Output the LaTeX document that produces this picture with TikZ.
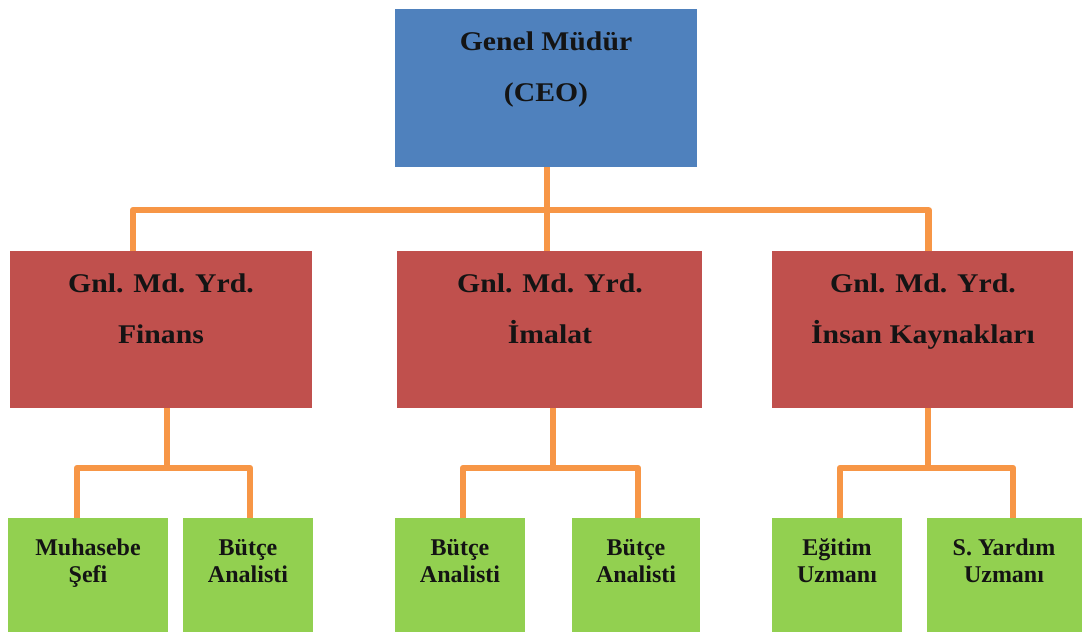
\documentclass[tikz,border=0pt]{standalone}
\usepackage{fontspec}
\setmainfont{Liberation Serif}
\newfontfamily\widefont{Liberation Serif}[FakeStretch=1.1]
\definecolor{ceoblue}{HTML}{4F81BD}
\definecolor{mgrred}{HTML}{C0504D}
\definecolor{staffgreen}{HTML}{92D050}
\definecolor{linkorange}{HTML}{F79646}
\definecolor{txtdark}{HTML}{141414}
\begin{document}
\begin{tikzpicture}[x=1pt,y=-1pt,
  box/.style={draw=none, inner sep=0pt, outer sep=0pt, anchor=north west},
  ceobox/.style={box, fill=ceoblue, minimum height=158pt},
  redbox/.style={box, fill=mgrred, minimum height=157pt},
  greenbox/.style={box, fill=staffgreen, minimum height=114pt},
  conn/.style={draw=linkorange, line width=6.5pt, line join=round},
  bigtxt/.style={font=\widefont\bfseries\fontsize{27}{51}\selectfont, text=txtdark, align=center, anchor=base, inner sep=0pt},
  smalltxt/.style={font=\bfseries\fontsize{24}{27}\selectfont, text=txtdark, align=center, anchor=base, inner sep=0pt}]
\useasboundingbox (0,0) rectangle (1083,632);

% boxes
\node[ceobox, minimum width=302pt] (ceo) at (395,9) {};
\node[redbox, minimum width=302pt] (finans) at (10,251) {};
\node[redbox, minimum width=305pt] (imalat) at (397,251) {};
\node[redbox, minimum width=301pt] (ik) at (772,251) {};
\node[greenbox, minimum width=160pt] (muh) at (8,518) {};
\node[greenbox, minimum width=130pt] (but1) at (183,518) {};
\node[greenbox, minimum width=130pt] (but2) at (395,518) {};
\node[greenbox, minimum width=128pt] (but3) at (572,518) {};
\node[greenbox, minimum width=130pt] (egt) at (772,518) {};
\node[greenbox, minimum width=155pt] (syr) at (927,518) {};

% connectors, top level
\coordinate (top) at (547,210);
\draw[conn] (ceo.south -| top) -- (imalat.north -| top);
\draw[conn] ([xshift=-28pt]finans.north) |- ([xshift=6pt]ik.north |- top) -- ([xshift=6pt]ik.north);

% connectors, lower level
\coordinate (jf) at (167,468);
\draw[conn] (finans.south -| jf) -- (jf);
\draw[conn] ([xshift=-11pt]muh.north) |- ([xshift=2pt]but1.north |- jf) -- ([xshift=2pt]but1.north);
\coordinate (ji) at (553,468);
\draw[conn] (imalat.south -| ji) -- (ji);
\draw[conn] ([xshift=3pt]but2.north) |- ([xshift=2pt]but3.north |- ji) -- ([xshift=2pt]but3.north);
\coordinate (jk) at (928,468);
\draw[conn] (ik.south -| jk) -- (jk);
\draw[conn] ([xshift=3pt]egt.north) |- ([xshift=8.5pt]syr.north |- jk) -- ([xshift=8.5pt]syr.north);

% texts (anchor = baseline of the last line)
\node[bigtxt] (ceo-t) at (546,101) {Genel Müdür\\(CEO)};
\node[bigtxt] (finans-t) at (161,343) {Gnl. Md. Yrd.\\Finans};
\node[bigtxt] (imalat-t) at (550,343) {Gnl. Md. Yrd.\\İmalat};
\node[bigtxt] (ik-t) at (923,343) {Gnl. Md. Yrd.\\İnsan Kaynakları};
\node[smalltxt] (muh-t) at (88,582) {Muhasebe\\Şefi};
\node[smalltxt] (but1-t) at (248,582) {Bütçe\\Analisti};
\node[smalltxt] (but2-t) at (460,582) {Bütçe\\Analisti};
\node[smalltxt] (but3-t) at (636,582) {Bütçe\\Analisti};
\node[smalltxt] (egt-t) at (837,582) {Eğitim\\Uzmanı};
\node[smalltxt] (syr-t) at (1004,582) {S. Yardım\\Uzmanı};
\end{tikzpicture}
\end{document}
